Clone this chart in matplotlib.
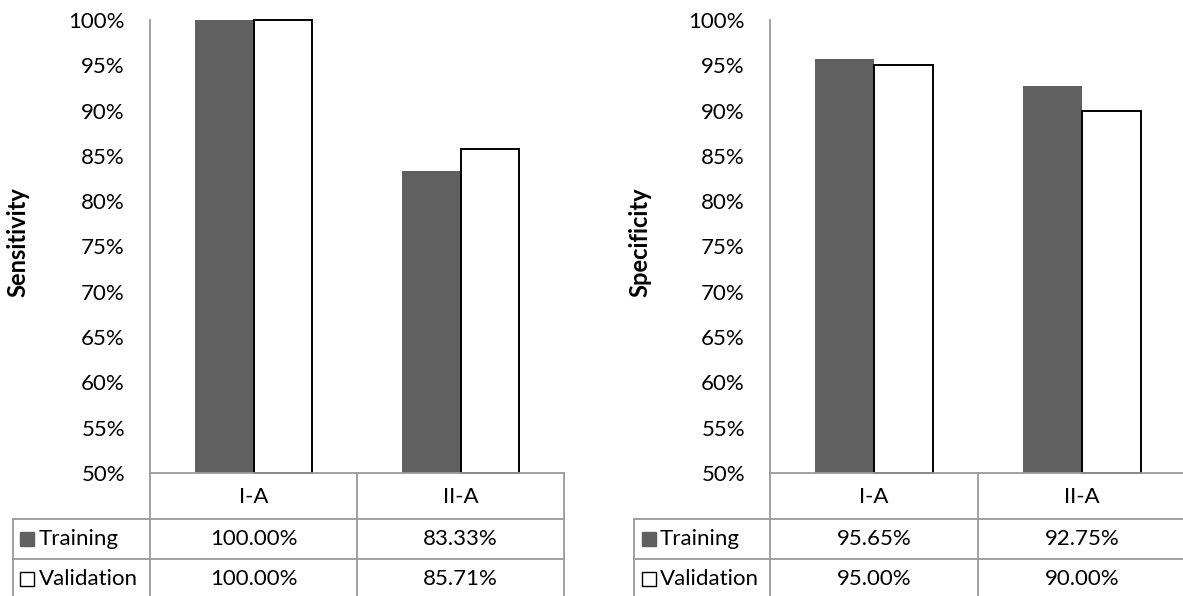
import matplotlib
matplotlib.use("Agg")
import matplotlib.pyplot as plt
import matplotlib.transforms as mtransforms
import numpy as np
from matplotlib.lines import Line2D
from matplotlib.ticker import MultipleLocator, PercentFormatter

W, H = 1183, 596

groups = ["I-A", "II-A"]
series = ["Training", "Validation"]
sens_train = [1.0000, 0.8333]
sens_valid = [1.0000, 0.8571]
spec_train = [0.9565, 0.9275]
spec_valid = [0.9500, 0.9000]

DARK = "#606060"
LINE = "#9a9a9a"

plt.rcParams["font.family"] = ["Lato", "DejaVu Sans"]
plt.rcParams["font.size"] = 16

fig = plt.figure(figsize=(W / 100, H / 100), dpi=100)


def fx(x):
    return x / W


def fy(y):
    return 1 - y / H


def hline(y, xa, xb):
    fig.add_artist(Line2D([xa, xb], [fy(y), fy(y)], color=LINE, lw=1.3,
                          transform=fig.transFigure))


def vline(x, ya, yb):
    fig.add_artist(Line2D([x, x], [fy(ya), fy(yb)], color=LINE, lw=1.3,
                          transform=fig.transFigure))


def panel(x0, x1, x_tab, x_lab, ylabel, train, valid):
    top, base, r1, r2 = 20, 473, 519, 559
    ax = fig.add_axes([fx(x0), fy(base), fx(x1 - x0), (base - top) / H])
    x = np.arange(len(groups))
    w = 0.284
    tr = np.array(train)
    va = np.array(valid)
    ax.bar(x - w / 2, tr - 0.5, w, bottom=0.5, color=DARK, clip_on=False)
    ax.bar(x + w / 2, va - 0.5, w, bottom=0.5, color="white",
           edgecolor="black", linewidth=1.4, clip_on=False)
    ax.set_xlim(-0.5, len(groups) - 0.5)
    ax.set_ylim(0.5, 1.0)
    ax.yaxis.set_major_locator(MultipleLocator(0.05))
    ax.yaxis.set_major_formatter(PercentFormatter(1.0, decimals=0))
    ax.tick_params(axis="y", length=0, pad=18, labelsize=16)
    ax.set_xticks([])
    for s in ("top", "right"):
        ax.spines[s].set_visible(False)
    for s in ("left", "bottom"):
        ax.spines[s].set_color(LINE)
        ax.spines[s].set_linewidth(1.3)

    fig.text(fx(x_lab), fy(242), ylabel, rotation=90, ha="center",
             va="center", fontweight="bold", fontsize=17)

    # data table under the plot
    right = ax.get_position().x1
    for b in np.arange(len(groups) + 1) - 0.5:
        xb = ax.transData.transform((b, 0.5))[0] / fig.bbox.width
        vline(xb, base, H + 2)
    hline(r1, fx(x_tab), right)
    hline(r2, fx(x_tab), right)
    vline(fx(x_tab), r1, H + 2)

    blend = mtransforms.blended_transform_factory(ax.transData, fig.transFigure)
    for i, g in enumerate(groups):
        fig.text(i, fy(497), g, transform=blend, ha="center", va="center")
        fig.text(i, fy(539), f"{tr[i] * 100:.2f}%", transform=blend,
                 ha="center", va="center")
        fig.text(i, fy(579), f"{va[i] * 100:.2f}%", transform=blend,
                 ha="center", va="center")

    for yy, name, face, edge in ((539, series[0], DARK, DARK),
                                 (579, series[1], "white", "black")):
        fig.add_artist(Line2D([fx(x_tab + 14.5)], [fy(yy)], marker="s",
                              markersize=9.5, markerfacecolor=face,
                              markeredgecolor=edge, markeredgewidth=1.0,
                              transform=fig.transFigure))
        fig.text(fx(x_tab + 26), fy(yy), name, ha="left", va="center")


panel(150, 564, 13, 18, "Sensitivity", sens_train, sens_valid)
panel(770, 1186, 634, 640, "Specificity", spec_train, spec_valid)

fig.savefig("out.png", dpi=100)
